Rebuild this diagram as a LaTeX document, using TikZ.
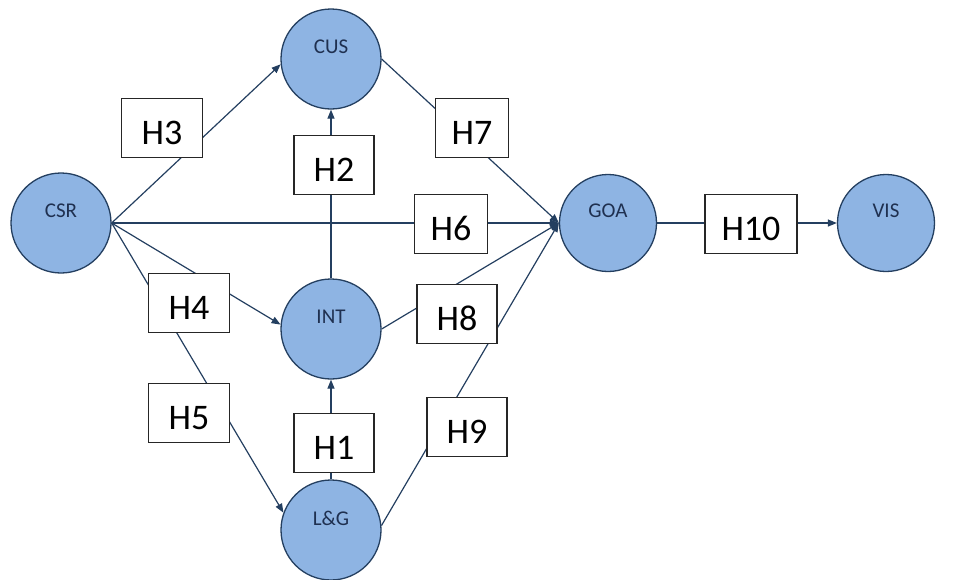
\documentclass[tikz,border=0pt]{standalone}
\usepackage{fontspec}
\setmainfont{Carlito}
\usetikzlibrary{arrows.meta}
\definecolor{cfill}{HTML}{8EB4E3}
\definecolor{cline}{HTML}{243F60}
\definecolor{ctext}{HTML}{1F3050}
\begin{document}
\begin{tikzpicture}[x=1pt,y=-1pt,
  var/.style={circle, draw=cline, line width=1.3pt, fill=cfill, minimum size=100pt, inner sep=0pt},
  vlab/.style={font=\fontsize{21}{24}\selectfont, text=ctext, yshift=12pt},
  hyp/.style={draw=black!85, line width=1.2pt, fill=white, minimum height=59pt, inner sep=0pt,
    font=\fontsize{36}{40}\selectfont, text height=33pt, text depth=0pt},
  conn/.style={draw=cline, line width=1.2pt},
  arr/.style={conn, -{Triangle[length=9pt,width=7pt]}}
]
\useasboundingbox (0,0) rectangle (980,579);

% variables
\node[var, label={[vlab]center:CSR}] (CSR) at (61,223) {};
\node[var, label={[vlab]center:CUS}] (CUS) at (331,59) {};
\node[var, label={[vlab]center:INT}] (INT) at (331,329) {};
\node[var, label={[vlab]center:L\&G}] (LG) at (331,530) {};
\node[var, minimum size=97pt, label={[vlab]center:GOA}] (GOA) at (608,223) {};
\node[var, minimum size=97pt, label={[vlab]center:VIS}] (VIS) at (886,223) {};

% connectors
\draw[arr] (CSR.east) -- (CUS.186);
\draw[arr] (CSR.east) -- (GOA.west);
\draw[arr] (CSR.east) -- (INT.175);
\draw[arr] (CSR.east) -- (LG.160);
\draw[arr] (INT) -- (CUS);
\draw[arr] (LG) -- (INT);
\draw[arr] (CUS.east) -- (GOA.west);
\draw[arr] (INT.east) -- (GOA.west);
\draw[arr] (LG.5) -- (GOA.west);
\draw[arr] (GOA) -- (VIS);

% hypothesis boxes
\node[hyp, minimum width=81pt] (H3) at (162,128) {H3};
\node[hyp, minimum width=80pt] (H2) at (334,165) {H2};
\node[hyp, minimum width=73pt] (H7) at (472,128) {H7};
\node[hyp, minimum width=73pt] (H6) at (451,224) {H6};
\node[hyp, minimum width=92pt] (H10) at (751,224) {H10};
\node[hyp, minimum width=81pt] (H4) at (189,303) {H4};
\node[hyp, minimum width=81pt] (H5) at (189,413) {H5};
\node[hyp, minimum width=80pt] (H1) at (334,443) {H1};
\node[hyp, minimum width=80pt] (H8) at (457,314) {H8};
\node[hyp, minimum width=80pt] (H9) at (467,427) {H9};
\end{tikzpicture}
\end{document}
